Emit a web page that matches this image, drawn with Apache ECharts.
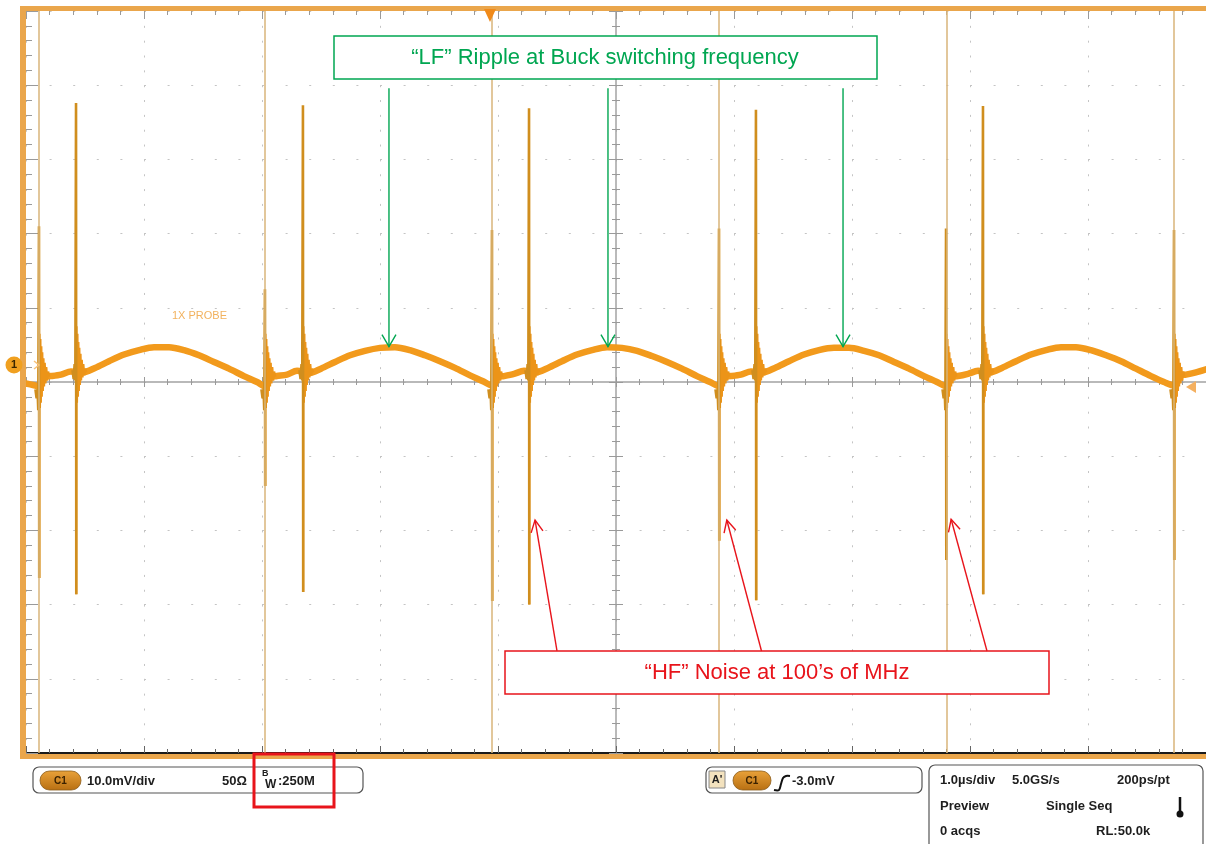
<!DOCTYPE html>
<html>
<head>
<meta charset="utf-8">
<script src="https://cdn.jsdelivr.net/npm/echarts@6/dist/echarts.min.js"></script>
<style>html,body{margin:0;padding:0;background:#fff;}#c{width:1206px;height:844px;}</style>
</head>
<body>
<div id="c"></div>
<script>
// Horizontal: time in µs (1.0 µs/div, 10 div). Vertical: mV relative to screen centre (10.0 mV/div).
const timeMin = 0, timeMax = 10, timeStep = 1;
const voltMin = -50, voltMax = 50, voltStep = 10;

// LF ripple (centre of the trace band)
const rippleTime = [
  0.000, 0.060, 0.110,
  0.144, 0.212, 0.297, 0.381, 0.483, 0.585, 0.703, 0.831, 0.958, 1.085, 1.212, 1.339, 1.466, 1.593, 1.720, 1.847, 1.958,
  2.025,
  2.059, 2.127, 2.212, 2.297, 2.398, 2.500, 2.619, 2.746, 2.873, 3.000, 3.127, 3.254, 3.381, 3.508, 3.636, 3.763, 3.873,
  3.949,
  3.983, 4.051, 4.136, 4.220, 4.322, 4.424, 4.542, 4.669, 4.797, 4.924, 5.051, 5.178, 5.305, 5.432, 5.559, 5.686, 5.797,
  5.873,
  5.907, 5.975, 6.059, 6.144, 6.246, 6.347, 6.466, 6.593, 6.720, 6.847, 6.975, 7.102, 7.229, 7.356, 7.483, 7.610, 7.720,
  7.797,
  7.831, 7.898, 7.983, 8.068, 8.169, 8.271, 8.390, 8.517, 8.644, 8.771, 8.898, 9.025, 9.153, 9.280, 9.407, 9.534, 9.644,
  9.729,
  9.763, 9.831, 9.915, 10.000
];
const rippleValue = [
  -0.2, -0.4, -0.6,
  0.7, 0.8, 1.0, 1.4, 1.3, 1.9, 2.8, 3.7, 4.3, 4.7, 4.7, 4.3, 3.6, 2.7, 1.8, 0.8, 0.0,
  -0.6,
  0.6, 0.8, 1.0, 1.5, 1.2, 1.8, 2.7, 3.6, 4.2, 4.6, 4.7, 4.3, 3.6, 2.8, 1.9, 0.9, 0.1,
  -0.5,
  0.6, 0.8, 1.1, 1.5, 1.3, 1.9, 2.8, 3.7, 4.3, 4.7, 4.6, 4.2, 3.5, 2.7, 1.8, 0.8, 0.0,
  -0.6,
  0.7, 0.8, 1.0, 1.4, 1.3, 1.9, 2.8, 3.7, 4.3, 4.6, 4.6, 4.2, 3.6, 2.7, 1.8, 0.8, 0.0,
  -0.6,
  0.7, 0.8, 1.1, 1.5, 1.3, 1.9, 2.8, 3.7, 4.3, 4.7, 4.7, 4.3, 3.6, 2.8, 1.8, 0.8, 0.0,
  -0.5,
  0.8, 1.0, 1.3, 1.7
];

// HF spikes at switching edges
const primaryTime = [0.110, 2.025, 3.949, 5.873, 7.797, 9.729];
const primaryHigh = [21.0, 12.5, 20.5, 20.7, 20.7, 20.5];
const primaryLow  = [-26.4, -14.0, -29.5, -21.4, -24.0, -24.0];
const secondaryTime = [0.424, 2.347, 4.263, 6.186, 8.110];
const secondaryHigh = [37.6, 37.3, 36.9, 36.7, 37.2];
const secondaryLow  = [-28.6, -28.3, -30.0, -29.4, -28.6];

// ringing around each edge (offset in µs, value in mV)
const preOffset = [-0.030, -0.020, -0.012, -0.006];
const primaryPreValue = [-1.0, -2.2, -1.0, -3.8];
const secondaryPreValue = [1.6, 0.4, 2.4, 0.2];
const ringOffset = [0.004, 0.008, 0.012, 0.016, 0.020, 0.024, 0.028, 0.033, 0.038, 0.043, 0.049, 0.055, 0.062, 0.070, 0.078, 0.088];
const primaryRingValue   = [6.5, -3.5, 5.8, -2.8, 4.8, -2.0, 4.0, -1.2, 3.2, -0.6, 2.6, -0.2, 2.0, 0.2, 1.4, 0.7];
const secondaryRingValue = [7.5, -2.8, 6.5, -2.0, 5.4, -1.2, 4.6, -0.4, 3.8, 0.2, 3.0, 0.6, 2.4, 0.9, 1.8, 1.3];

// annotation arrows (data units)
const lfArrowTime = [3.076, 4.932, 6.924];
const lfArrowTip = 4.76, lfArrowTail = 39.6;
const hfArrowTipTime = [4.314, 5.939, 7.840];
const hfArrowTipValue = [-18.6, -18.6, -18.5];
const hfArrowTailTime = [4.500, 6.233, 8.144];
const hfArrowTailValue = -36.25;

const TRACE = '#F29A1C', SPIKE = '#D08E1E', EDGE = '#D8B57A', RING = '#EC9418';
const TICK = '#9a9a9a', DOT = '#c4c4c4';
const FONT = '"Liberation Sans", Arial, sans-serif';

const chart = echarts.init(document.getElementById('c'));

function spike(t, hi, lo, preVal, ringVal) {
  const d = [];
  preOffset.forEach((o, i) => d.push([t + o, preVal[i]]));
  d.push([t, hi]);
  d.push([t + 0.002, lo]);
  const r = [[t + 0.002, lo]];
  ringOffset.forEach((o, i) => r.push([t + o, ringVal[i]]));
  return [
    { type: 'line', xAxisIndex: 0, yAxisIndex: 0, data: r, symbol: 'none', silent: true, z: 3,
      lineStyle: { color: RING, width: 2.2 } },
    { type: 'line', xAxisIndex: 0, yAxisIndex: 0, data: d, symbol: 'none', silent: true, z: 4,
      lineStyle: { color: SPIKE, width: 2.6 } }
  ];
}

const series = [
  {
    type: 'line', xAxisIndex: 0, yAxisIndex: 0, data: [], symbol: 'none', silent: true, z: 1,
    markLine: {
      silent: true, symbol: ['none', 'none'], label: { show: false },
      lineStyle: { color: EDGE, width: 1.5, type: 'solid' },
      data: primaryTime.map(t => ({ xAxis: t }))
    }
  },
  {
    type: 'line', xAxisIndex: 0, yAxisIndex: 0, symbol: 'none', silent: true, z: 2, smooth: 0.3,
    data: rippleTime.map((t, i) => [t, rippleValue[i]]),
    lineStyle: { color: TRACE, width: 6.5, cap: 'round', join: 'round' }
  }
];
primaryTime.forEach((t, i) => series.push(...spike(t, primaryHigh[i], primaryLow[i], primaryPreValue, primaryRingValue)));
secondaryTime.forEach((t, i) => series.push(...spike(t, secondaryHigh[i], secondaryLow[i], secondaryPreValue, secondaryRingValue)));

const baseX = { type: 'value', min: timeMin, max: timeMax, interval: timeStep, axisLabel: { show: false } };
const baseY = { type: 'value', min: voltMin, max: voltMax, interval: voltStep, axisLabel: { show: false } };

chart.setOption({
  animation: false,
  backgroundColor: '#fff',
  grid: { left: 26, top: 11, width: 1180, height: 742, containLabel: false },
  xAxis: [
    Object.assign({}, baseX, {
      position: 'top',
      axisLine: { show: false, onZero: false },
      axisTick: { show: true, inside: true, length: 8, lineStyle: { color: TICK } },
      minorTick: { show: true, splitNumber: 5, length: 4, lineStyle: { color: TICK } },
      splitLine: { show: true, lineStyle: { color: DOT, width: 1, type: [2, 12.84] } }
    }),
    Object.assign({}, baseX, {
      position: 'bottom',
      axisLine: { show: true, onZero: false, lineStyle: { color: '#1a1a1a', width: 2 } },
      axisTick: { show: true, inside: true, length: 7, lineStyle: { color: '#666' } },
      minorTick: { show: true, splitNumber: 5, length: 4, lineStyle: { color: '#666' } },
      splitLine: { show: false }
    }),
    Object.assign({}, baseX, {
      position: 'bottom',
      axisLine: { show: true, onZero: true, onZeroAxisIndex: 0, lineStyle: { color: '#a3a3a3', width: 1.5 } },
      axisTick: { show: true, inside: true, length: 5, lineStyle: { color: TICK } },
      minorTick: { show: true, splitNumber: 5, length: 3, lineStyle: { color: TICK } },
      splitLine: { show: false }
    }),
    Object.assign({}, baseX, {
      position: 'bottom',
      axisLine: { show: false, onZero: true, onZeroAxisIndex: 0 },
      axisTick: { show: true, inside: false, length: 5, lineStyle: { color: TICK } },
      minorTick: { show: true, splitNumber: 5, length: 3, lineStyle: { color: TICK } },
      splitLine: { show: false }
    }),
    { type: 'value', min: -5, max: 5, show: false, position: 'top' }
  ],
  yAxis: [
    Object.assign({}, baseY, {
      position: 'left',
      axisLine: { show: false, onZero: false },
      axisTick: { show: true, inside: true, length: 12, lineStyle: { color: TICK } },
      minorTick: { show: true, splitNumber: 5, length: 6, lineStyle: { color: TICK } },
      splitLine: { show: true, lineStyle: { color: DOT, width: 1, type: [2, 21.6] } }
    }),
    Object.assign({}, baseY, {
      position: 'left',
      axisLine: { show: true, onZero: true, onZeroAxisIndex: 4, lineStyle: { color: '#a3a3a3', width: 1.5 } },
      axisTick: { show: true, inside: true, length: 7, lineStyle: { color: TICK } },
      minorTick: { show: true, splitNumber: 5, length: 4, lineStyle: { color: TICK } },
      splitLine: { show: false }
    }),
    Object.assign({}, baseY, {
      position: 'left',
      axisLine: { show: false, onZero: true, onZeroAxisIndex: 4 },
      axisTick: { show: true, inside: false, length: 7, lineStyle: { color: TICK } },
      minorTick: { show: true, splitNumber: 5, length: 4, lineStyle: { color: TICK } },
      splitLine: { show: false }
    })
  ],
  series: series
});

// ---------- decorations ----------
const px = (t, v) => chart.convertToPixel({ xAxisIndex: 0, yAxisIndex: 0 }, [t, v]);

function arrow(tail, tip, color, len, half) {
  const dx = tip[0] - tail[0], dy = tip[1] - tail[1];
  const L = Math.hypot(dx, dy), ux = dx / L, uy = dy / L, nx = -uy, ny = ux;
  const b = [tip[0] - ux * len, tip[1] - uy * len];
  return [
    { type: 'line', z: 30, shape: { x1: tail[0], y1: tail[1], x2: tip[0], y2: tip[1] }, style: { stroke: color, lineWidth: 1.4 } },
    { type: 'polyline', z: 30, shape: { points: [[b[0] + nx * half, b[1] + ny * half], tip, [b[0] - nx * half, b[1] - ny * half]] }, style: { stroke: color, lineWidth: 1.4, fill: null } }
  ];
}

const GREEN = '#00A651', RED = '#E8141B';
const g = [];
// oscilloscope frame
g.push({ type: 'rect', z: 25, shape: { x: 20, y: 6, width: 1186, height: 5 }, style: { fill: '#EAA64C' } });
g.push({ type: 'rect', z: 25, shape: { x: 20, y: 6, width: 6, height: 753 }, style: { fill: '#EAA64C' } });
g.push({ type: 'rect', z: 25, shape: { x: 20, y: 754, width: 1186, height: 5 }, style: { fill: '#EAA64C' } });
// trigger position marker
g.push({ type: 'polygon', z: 26, shape: { points: [[484, 9], [496, 9], [490, 22]] }, style: { fill: '#F08A1A' } });
// trigger level marker (right)
g.push({ type: 'polygon', z: 26, shape: { points: [[1186, 387], [1196, 381], [1196, 393]] }, style: { fill: '#F4B060' } });
// ground marker
g.push({ type: 'circle', z: 26, shape: { cx: 14, cy: 365, r: 8.5 }, style: { fill: '#F0A020' } });
g.push({ type: 'text', z: 27, style: { x: 14, y: 365, text: '1', fill: '#3a2600', font: 'bold 11px ' + FONT, align: 'center', verticalAlign: 'middle' } });
g.push({ type: 'polyline', z: 26, shape: { points: [[34, 361], [39, 365], [34, 369]] }, style: { stroke: '#F6C27A', lineWidth: 1.5, fill: null } });
// 1X PROBE
g.push({ type: 'text', z: 26, style: { x: 172, y: 316, text: '1X PROBE', fill: '#F2B25E', font: '11px ' + FONT, verticalAlign: 'middle' } });

// LF annotation
g.push({ type: 'rect', z: 29, shape: { x: 334, y: 36, width: 543, height: 43 }, style: { fill: '#fff', stroke: GREEN, lineWidth: 1.5 } });
g.push({ type: 'text', z: 30, style: { x: 605, y: 58, text: '\u201cLF\u201d Ripple at Buck switching frequency', fill: GREEN, font: '22px ' + FONT, align: 'center', verticalAlign: 'middle' } });
lfArrowTime.forEach(t => g.push(...arrow(px(t, lfArrowTail), px(t, lfArrowTip), GREEN, 12, 7)));

// HF annotation
g.push({ type: 'rect', z: 29, shape: { x: 505, y: 651, width: 544, height: 43 }, style: { fill: '#fff', stroke: RED, lineWidth: 1.5 } });
g.push({ type: 'text', z: 30, style: { x: 777, y: 673, text: '\u201cHF\u201d Noise at 100\u2019s of MHz', fill: RED, font: '22px ' + FONT, align: 'center', verticalAlign: 'middle' } });
hfArrowTipTime.forEach((t, i) => g.push(...arrow(px(hfArrowTailTime[i], hfArrowTailValue), px(t, hfArrowTipValue[i]), RED, 12, 6)));

// ---------- status bar ----------
const BOLD = 'bold 13px ' + FONT, INK = '#1e1e1e';
function pill(x, y, w) {
  g.push({ type: 'rect', z: 31, shape: { x: x, y: y, width: w, height: 19, r: 9.5 },
    style: { fill: new echarts.graphic.LinearGradient(0, 0, 0, 1, [{ offset: 0, color: '#E9A23A' }, { offset: 1, color: '#B86F12' }]), stroke: '#8a5a18', lineWidth: 0.8 } });
  g.push({ type: 'text', z: 32, style: { x: x + w / 2, y: y + 10, text: 'C1', fill: '#3b2200', font: 'bold 10px ' + FONT, align: 'center', verticalAlign: 'middle' } });
}
// box 1
g.push({ type: 'rect', z: 30, shape: { x: 33, y: 767, width: 330, height: 26, r: 6 }, style: { fill: '#fff', stroke: '#555', lineWidth: 1.2 } });
pill(40, 771, 41);
g.push({ type: 'text', z: 31, style: { x: 87, y: 781, text: '10.0mV/div', fill: INK, font: BOLD, verticalAlign: 'middle' } });
g.push({ type: 'text', z: 31, style: { x: 222, y: 781, text: '50\u03a9', fill: INK, font: BOLD, verticalAlign: 'middle' } });
g.push({ type: 'text', z: 31, style: { x: 262, y: 774, text: 'B', fill: INK, font: 'bold 9px ' + FONT, verticalAlign: 'middle' } });
g.push({ type: 'text', z: 31, style: { x: 265, y: 785, text: 'W', fill: INK, font: 'bold 12px ' + FONT, verticalAlign: 'middle' } });
g.push({ type: 'text', z: 31, style: { x: 278, y: 781, text: ':250M', fill: INK, font: BOLD, verticalAlign: 'middle' } });
g.push({ type: 'rect', z: 33, shape: { x: 254, y: 754, width: 80, height: 53 }, style: { fill: null, stroke: RED, lineWidth: 3 } });
// box 2
g.push({ type: 'rect', z: 30, shape: { x: 706, y: 767, width: 216, height: 26, r: 6 }, style: { fill: '#fff', stroke: '#555', lineWidth: 1.2 } });
g.push({ type: 'rect', z: 31, shape: { x: 709, y: 771, width: 16, height: 17 }, style: { fill: '#F3E2BE', stroke: '#888', lineWidth: 1 } });
g.push({ type: 'text', z: 32, style: { x: 717, y: 780, text: "A'", fill: INK, font: 'bold 11px ' + FONT, align: 'center', verticalAlign: 'middle' } });
pill(733, 771, 38);
g.push({ type: 'polyline', z: 31, shape: { points: [[774, 790], [779, 790], [781, 784], [783, 778], [786, 776], [790, 776]], smooth: 0.3 }, style: { stroke: '#111', lineWidth: 2, fill: null } });
g.push({ type: 'text', z: 31, style: { x: 792, y: 781, text: '-3.0mV', fill: INK, font: BOLD, verticalAlign: 'middle' } });
// box 3
g.push({ type: 'rect', z: 30, shape: { x: 929, y: 765, width: 274, height: 100, r: 6 }, style: { fill: '#fff', stroke: '#555', lineWidth: 1.2 } });
[['1.0\u00b5s/div', 940, 780], ['5.0GS/s', 1012, 780], ['200ps/pt', 1117, 780],
 ['Preview', 940, 806], ['Single Seq', 1046, 806],
 ['0 acqs', 940, 831], ['RL:50.0k', 1096, 831]].forEach(s =>
  g.push({ type: 'text', z: 31, style: { x: s[1], y: s[2], text: s[0], fill: INK, font: BOLD, verticalAlign: 'middle' } }));
g.push({ type: 'line', z: 31, shape: { x1: 1180, y1: 797, x2: 1180, y2: 812 }, style: { stroke: '#111', lineWidth: 2.5 } });
g.push({ type: 'circle', z: 31, shape: { cx: 1180, cy: 814, r: 3.5 }, style: { fill: '#111' } });

chart.setOption({ graphic: g });
</script>
</body>
</html>
